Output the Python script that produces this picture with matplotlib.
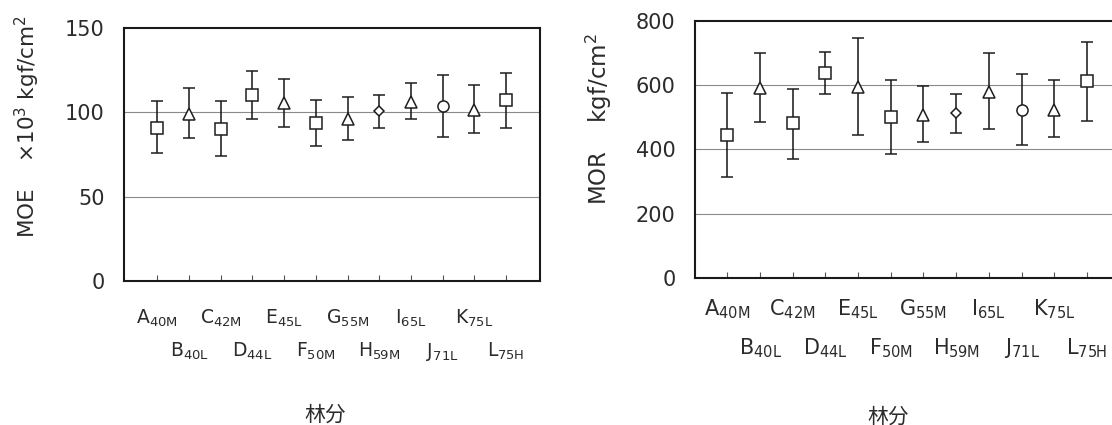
import numpy as np
import matplotlib
matplotlib.use('Agg')
import matplotlib.pyplot as plt
from matplotlib.ticker import FixedLocator

plt.rcParams['font.family'] = ['DejaVu Sans', 'Noto Sans CJK SC']
plt.rcParams['mathtext.default'] = 'regular'

# 林分
stands = ['A', 'B', 'C', 'D', 'E', 'F', 'G', 'H', 'I', 'J', 'K', 'L']
subs = ['40M', '40L', '42M', '44L', '45L', '50M', '55M', '59M', '65L', '71L', '75L', '75H']
shapes = ['s', '^', 's', 's', '^', 's', '^', 'D', '^', 'o', '^', 's']

# MOE (x10^3 kgf/cm2)
moe_mean = [91, 99, 90, 110, 105.5, 93.5, 96, 100.5, 106, 104, 101.5, 107.5]
moe_hi = [106.5, 114.5, 106.5, 124.7, 120, 107.5, 109, 110, 117.5, 122, 116.5, 123.5]
moe_lo = [76, 84.5, 74, 96, 91.5, 80, 83.5, 91, 96, 85.5, 87.5, 91]

# MOR (kgf/cm2)
mor_mean = [446, 591, 482, 638, 594, 500, 508, 513, 580, 523, 524, 614]
mor_hi = [575, 700, 589, 703, 746, 617, 598, 572, 700, 636, 617, 735]
mor_lo = [315, 485, 371, 572, 446, 386, 423, 451, 463, 414, 439, 489]

txt = '#2b2b2b'
msize = {'s': 8.4, '^': 8.4, 'D': 5.6, 'o': 8.0}

fig = plt.figure(figsize=(11.12, 4.25), dpi=100)
ax1 = fig.add_axes([0.1115, 0.3388, 0.3741, 0.5953])
ax2 = fig.add_axes([0.625, 0.3459, 0.383, 0.6047])


def draw(ax, mean, hi, lo, ylim, grid, yticks, xlim, pad1, pad2, xfs, ylab, ylab_fs, ylab_xy, xlab_xy):
    x = np.arange(1, len(stands) + 1)
    for g in grid:
        ax.axhline(g, color='#8a8a8a', lw=0.8, zorder=1)
    for i in range(len(stands)):
        m = shapes[i]
        ax.errorbar(x[i], mean[i], yerr=[[mean[i] - lo[i]], [hi[i] - mean[i]]],
                    fmt=m, ms=msize[m], mfc='white', mec='#1e1e1e', mew=1.1,
                    ecolor='#1e1e1e', elinewidth=1.15, capsize=4.3, capthick=1.15,
                    zorder=3)
    ax.set_xlim(*xlim)
    ax.set_ylim(*ylim)
    ax.set_yticks(yticks)
    ax.tick_params(axis='y', length=0, pad=14, labelsize=15, labelcolor=txt)

    # 两排标签: A,C,E... 在上, B,D,F... 在下
    labels = [r'%s$_{%s}$' % (s, t) for s, t in zip(stands, subs)]
    ax.xaxis.set_major_locator(FixedLocator(x[0::2]))
    ax.xaxis.set_minor_locator(FixedLocator(x[1::2]))
    ax.set_xticklabels(labels[0::2])
    ax.set_xticklabels(labels[1::2], minor=True)
    ax.tick_params(axis='x', which='major', direction='in', length=4, width=0.8,
                   color='#555555', pad=pad1, labelsize=xfs, labelcolor=txt)
    ax.tick_params(axis='x', which='minor', direction='in', length=4, width=0.8,
                   color='#555555', pad=pad2, labelsize=xfs, labelcolor=txt)

    for sp in ax.spines.values():
        sp.set_linewidth(1.5)
        sp.set_color('#1a1a1a')

    ax.set_ylabel(ylab, fontsize=ylab_fs, color=txt)
    ax.yaxis.set_label_coords(*ylab_xy)
    ax.set_xlabel('林分', fontsize=15, color=txt)
    ax.xaxis.set_label_coords(*xlab_xy)


draw(ax1, moe_mean, moe_hi, moe_lo, (0, 150), [50, 100], [0, 50, 100, 150],
     (-0.05, 13.07), 19, 43, 13.5,
     r'MOE    $\times$10$^3$ kgf/cm$^2$', 15.5, (-0.196, 0.61), (0.483, -0.49))
draw(ax2, mor_mean, mor_hi, mor_lo, (0, 800), [200, 400, 600], [0, 200, 400, 600, 800],
     (0.01, 13.04), 14, 42, 15,
     r'MOR    kgf/cm$^2$', 16.5, (-0.19, 0.62), (0.453, -0.50))

fig.savefig('out.png', dpi=100)
